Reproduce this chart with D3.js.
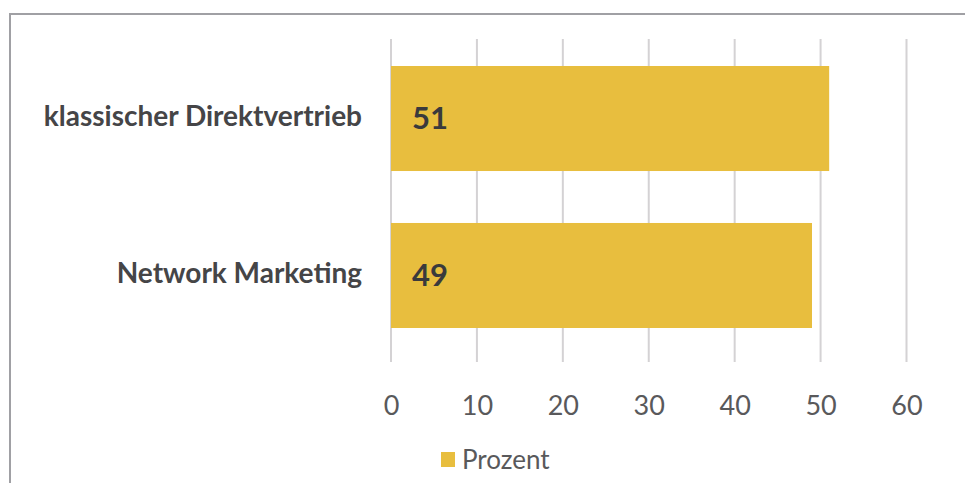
<!DOCTYPE html>
<html>
<head>
<meta charset="utf-8">
<script src="https://cdn.jsdelivr.net/npm/d3@7"></script>
<style>
  body { margin: 0; background: #fff; }
  svg { display: block; font-family: Lato, "Open Sans", sans-serif; }
</style>
</head>
<body>
<svg width="965" height="483"></svg>
<script>
var categories = ["klassischer Direktvertrieb", "Network Marketing"]
var values = [51, 49]
var ticks = [0, 10, 20, 30, 40, 50, 60]
var seriesName = "Prozent"

var svg = d3.select("svg")
var barColor = "#e8be3e"

// outer frame (runs off the right and bottom edge)
svg.append("rect")
  .attr("x", 10).attr("y", 14)
  .attr("width", 1000).attr("height", 520)
  .attr("fill", "none")
  .attr("stroke", "#a0a0a4")
  .attr("stroke-width", 2)

var x = d3.scaleLinear().domain([0, 60]).range([391, 906.5])
var y = d3.scaleBand().domain(categories).range([39, 355]).paddingInner(0.331).paddingOuter(0.172)

// gridlines
svg.append("g").selectAll("line")
  .data(ticks)
  .enter().append("line")
  .attr("x1", function(d) { return x(d) })
  .attr("x2", function(d) { return x(d) })
  .attr("y1", 39).attr("y2", 362)
  .attr("stroke", "#d4d2d4")
  .attr("stroke-width", 2)

// bars
svg.append("g").selectAll("rect")
  .data(values)
  .enter().append("rect")
  .attr("x", x(0))
  .attr("y", function(d, i) { return y(categories[i]) })
  .attr("width", function(d) { return x(d) - x(0) })
  .attr("height", y.bandwidth())
  .attr("fill", barColor)

// value labels
svg.append("g").selectAll("text")
  .data(values)
  .enter().append("text")
  .attr("x", 412)
  .attr("y", function(d, i) { return y(categories[i]) + y.bandwidth() / 2 })
  .attr("dy", "0.35em")
  .attr("font-size", 31)
  .attr("font-weight", "bold")
  .attr("fill", "#3a3a3c")
  .text(function(d) { return d })

// category labels
var yAxis = svg.append("g")
  .attr("transform", "translate(" + 362 + ",0)")
  .call(d3.axisLeft(y).tickSize(0).tickPadding(0))
yAxis.select(".domain").remove()
yAxis.selectAll("text")
  .attr("font-family", "Lato, 'Open Sans', sans-serif")
  .attr("font-size", 28)
  .attr("font-weight", "bold")
  .attr("fill", "#454547")
  .attr("dy", "0.28em")

// x tick labels
var xAxis = svg.append("g")
  .attr("transform", "translate(0," + 362 + ")")
  .call(d3.axisBottom(x).tickValues(ticks).tickSize(0).tickPadding(0))
xAxis.select(".domain").remove()
xAxis.selectAll("text")
  .attr("font-family", "Lato, 'Open Sans', sans-serif")
  .attr("font-size", 27)
  .attr("fill", "#59595b")
  .attr("y", 44)
  .attr("dy", "0.35em")

// legend
var legend = svg.append("g")
legend.append("rect")
  .attr("x", 441).attr("y", 452)
  .attr("width", 14).attr("height", 15)
  .attr("fill", barColor)
legend.append("text")
  .attr("x", 462).attr("y", 460)
  .attr("dy", "0.35em")
  .attr("font-size", 26)
  .attr("fill", "#59595b")
  .text(seriesName)
</script>
</body>
</html>
